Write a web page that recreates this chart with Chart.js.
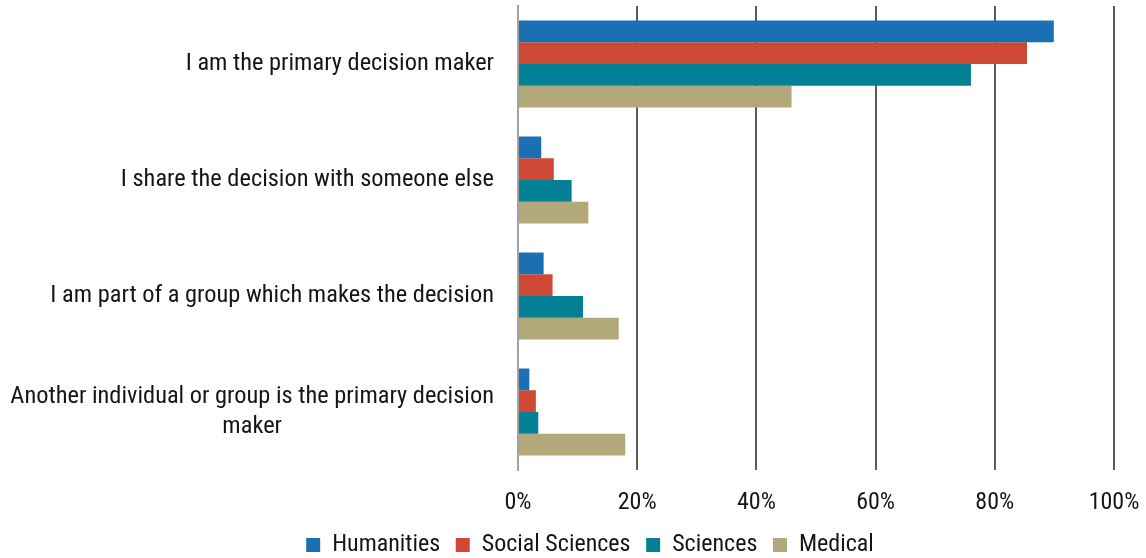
<!DOCTYPE html>
<html>
<head>
<meta charset="utf-8">
<script src="https://cdn.jsdelivr.net/npm/chart.js@4/dist/chart.umd.min.js"></script>
<style>
  html, body { margin: 0; padding: 0; background: #ffffff; }
</style>
</head>
<body>
<canvas id="c" width="1146" height="558"></canvas>
<script>
const categories = [
  "I am the primary decision maker",
  "I share the decision with someone else",
  "I am part of a group which makes the decision",
  ["Another individual or group is the primary decision", "maker"]
];
const seriesNames = ["Humanities", "Social Sciences", "Sciences", "Medical"];
const humanities = [89.9, 3.9, 4.3, 1.9];
const socialSciences = [85.4, 6.0, 5.8, 3.0];
const sciences = [76.0, 9.0, 10.9, 3.4];
const medical = [45.9, 11.8, 16.9, 18.0];
const xTicks = [0, 20, 40, 60, 80, 100];

const colors = ["#1a70b3", "#cf4836", "#038096", "#b3a879"];
const FONT = "'Roboto Condensed', 'DejaVu Sans Condensed', sans-serif";
const FONT_SIZE = 24;
const LABEL_SIZE = 24.4;
const TEXT = "#151515";

const yLabelPlugin = {
  id: 'yLabels',
  afterDraw(chart) {
    const scale = chart.scales.y;
    const ctx = chart.ctx;
    ctx.save();
    ctx.font = LABEL_SIZE + "px " + FONT;
    ctx.fillStyle = TEXT;
    ctx.textBaseline = 'middle';
    const rightX = scale.right - 24;
    const lh = 30;
    categories.forEach((lab, i) => {
      const y = scale.getPixelForTick(i);
      const lines = Array.isArray(lab) ? lab : [lab];
      const w = Math.max(...lines.map(l => ctx.measureText(l).width));
      const cx = rightX - w / 2;
      const y0 = y - (lines.length - 1) * lh / 2;
      ctx.textAlign = 'center';
      lines.forEach((l, k) => ctx.fillText(l, cx, y0 + k * lh));
    });
    ctx.restore();
  }
};

const data = {
  labels: categories.map(c => Array.isArray(c) ? c.join(' ') : c),
  datasets: [humanities, socialSciences, sciences, medical].map((vals, i) => ({
    label: seriesNames[i],
    data: vals,
    backgroundColor: colors[i],
    borderWidth: 0,
    categoryPercentage: 0.75,
    barPercentage: 1.0
  }))
};

const PAD_LEFT = 66;

new Chart(document.getElementById('c'), {
  type: 'bar',
  data,
  options: {
    indexAxis: 'y',
    responsive: false,
    animation: false,
    devicePixelRatio: 1,
    layout: { padding: { top: 6, right: 32, left: PAD_LEFT, bottom: 0 } },
    scales: {
      x: {
        min: 0, max: 100,
        afterBuildTicks(scale) { scale.ticks = xTicks.map(v => ({ value: v })); },
        ticks: {
          callback: v => v + '%',
          font: { family: FONT, size: FONT_SIZE },
          color: TEXT,
          padding: 0,
          maxRotation: 0
        },
        grid: {
          color: ctx => ctx.index === 0 ? 'rgba(0,0,0,0)' : '#5a5a5a',
          lineWidth: 2,
          drawTicks: true,
          tickLength: 18.6,
          tickColor: 'rgba(0,0,0,0)'
        },
        border: { display: false }
      },
      y: {
        afterFit(scale) { scale.width = 518 - PAD_LEFT; },
        ticks: { display: false },
        grid: { display: false, drawTicks: false },
        border: { display: true, color: '#a3a3a3', width: 2 }
      }
    },
    plugins: {
      legend: {
        position: 'bottom',
        maxHeight: 40.6,
        labels: {
          font: { family: FONT, size: FONT_SIZE },
          color: TEXT,
          boxWidth: 14,
          boxHeight: 14,
          padding: 15.6
        }
      },
      tooltip: { enabled: false }
    }
  },
  plugins: [yLabelPlugin]
});
</script>
</body>
</html>
